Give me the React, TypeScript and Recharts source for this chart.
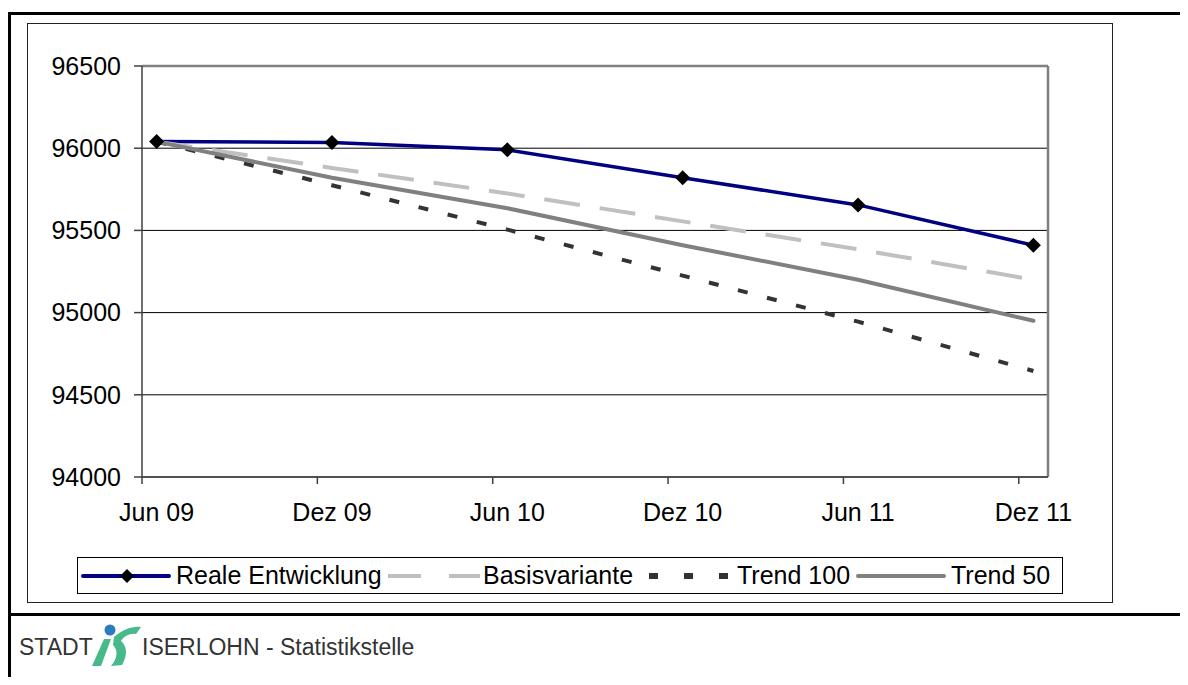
import React from 'react';
import {
  LineChart,
  Line,
  XAxis,
  YAxis,
  CartesianGrid,
  ReferenceLine,
} from 'recharts';

// Half-year reporting dates
const CATEGORIES = ['Jun 09', 'Dez 09', 'Jun 10', 'Dez 10', 'Jun 11', 'Dez 11'];

// Population values
const REALE = [96040, 96035, 95990, 95820, 95655, 95410];
const BASIS = [96040, 95880, 95725, 95555, 95385, 95200];
const TREND_100 = [96040, 95775, 95505, 95225, 94945, 94645];
const TREND_50 = [96040, 95820, 95635, 95410, 95200, 94950];

const Y_TICKS = [94000, 94500, 95000, 95500, 96000, 96500];

const FONT = '"Liberation Sans", Arial, sans-serif';

const COLORS = {
  reale: '#000080',
  basis: '#c0c0c0',
  trend100: '#333333',
  trend50: '#808080',
};

// month offsets from Jun 09; each value sits mid-month
const MONTHS_PER_STEP = 6;
const X_TICKS = CATEGORIES.map((_, i) => i * MONTHS_PER_STEP);

const data = CATEGORIES.map((name, i) => ({
  name,
  x: i * MONTHS_PER_STEP + 0.5,
  reale: REALE[i],
  basis: BASIS[i],
  trend100: TREND_100[i],
  trend50: TREND_50[i],
}));

const CHART_W = 1084;
const CHART_H = 578;
const MARGIN = { top: 42, right: 64, bottom: 85, left: 0 };
const Y_AXIS_W = 114;
const PLOT_W = CHART_W - MARGIN.left - MARGIN.right - Y_AXIS_W;
const HALF_MONTH_PX = PLOT_W / 31 / 2;

const Diamond = (props: any) => {
  const { cx, cy } = props;
  if (cx == null || cy == null) return null;
  const r = 7.5;
  return (
    <polygon
      points={`${cx},${cy - r} ${cx + r},${cy} ${cx},${cy + r} ${cx - r},${cy}`}
      fill="#000"
    />
  );
};

const MonthTick = (props: any) => {
  const { x, y, payload } = props;
  const idx = X_TICKS.indexOf(payload.value);
  return (
    <text
      x={x + HALF_MONTH_PX}
      y={y}
      dy="0.71em"
      textAnchor="middle"
      fill="#000"
      fontSize={25}
      fontFamily={FONT}
    >
      {CATEGORIES[idx]}
    </text>
  );
};

const LEGEND = [
  { key: 'reale', label: 'Reale Entwicklung', width: 307, gap: 3 },
  { key: 'basis', label: 'Basisvariante', width: 249, gap: 3 },
  { key: 'trend100', label: 'Trend 100', width: 219, gap: 8 },
  { key: 'trend50', label: 'Trend 50', width: 200, gap: 3 },
];

const LegendSample = ({ k }: { k: string }) => {
  const w = 92;
  return (
    <svg width={w} height={20} style={{ display: 'block', flex: 'none' }}>
      {k === 'reale' && (
        <>
          <line x1={2} y1={10} x2={w - 4} y2={10} stroke={COLORS.reale} strokeWidth={4} strokeLinecap="round" />
          <polygon points={`${w / 2},3 ${w / 2 + 7},10 ${w / 2},17 ${w / 2 - 7},10`} fill="#000" />
        </>
      )}
      {k === 'basis' && (
        <line x1={0} y1={10} x2={w} y2={10} stroke={COLORS.basis} strokeWidth={4} strokeDasharray="33 28" />
      )}
      {k === 'trend100' && (
        <line x1={12} y1={10} x2={w} y2={10} stroke={COLORS.trend100} strokeWidth={6} strokeDasharray="9 26" />
      )}
      {k === 'trend50' && (
        <line x1={2} y1={10} x2={w - 4} y2={10} stroke={COLORS.trend50} strokeWidth={4} strokeLinecap="round" />
      )}
    </svg>
  );
};

const IserlohnLogo = () => (
  <svg width={52} height={48} style={{ position: 'absolute', left: 90, top: 620 }}>
    <circle cx={20} cy={10} r={5.5} fill="#2b7bbf" />
    <path d="M14,19 L21,19 L11,46 L2,46 Z" fill="#47b98b" />
    <path
      d="M24,17 C32,10 42,6 51,7 L46,14 C40,13 34,16 31,21 C37,26 38,35 32,45 L21,46 C28,38 28,30 23,25 Z"
      fill="#47b98b"
    />
  </svg>
);

const App: React.FC = () => {
  return (
    <div
      style={{
        position: 'relative',
        margin: -8,
        width: 1188,
        height: 685,
        background: '#fff',
        fontFamily: FONT,
        overflow: 'hidden',
      }}
    >
      {/* outer frame */}
      <div style={{ position: 'absolute', left: 8, top: 12, width: 1180, height: 2.5, background: '#000' }} />
      <div style={{ position: 'absolute', left: 8, top: 12, width: 2.5, height: 673, background: '#000' }} />
      <div style={{ position: 'absolute', left: 8, top: 613, width: 1180, height: 2.5, background: '#000' }} />

      {/* chart area */}
      <div
        style={{
          position: 'absolute',
          left: 27,
          top: 23,
          width: CHART_W,
          height: CHART_H,
          border: '1.5px solid #222',
        }}
      >
        <LineChart width={CHART_W} height={CHART_H} data={data} margin={MARGIN}>
          <CartesianGrid vertical={false} stroke="#000" strokeWidth={1} />
          <XAxis
            dataKey="x"
            type="number"
            domain={[0, 31]}
            ticks={X_TICKS}
            interval={0}
            height={40}
            tickSize={7}
            tickMargin={19}
            stroke="#404040"
            strokeWidth={1.5}
            tick={<MonthTick />}
          />
          <YAxis
            type="number"
            domain={[94000, 96500]}
            ticks={Y_TICKS}
            interval={0}
            width={Y_AXIS_W}
            tickSize={8}
            tickMargin={13}
            stroke="#404040"
            strokeWidth={1.5}
            tick={{ fill: '#000', fontSize: 25, fontFamily: FONT }}
          />
          <ReferenceLine y={96500} stroke="#808080" strokeWidth={2.5} />
          <ReferenceLine x={31} stroke="#808080" strokeWidth={2.5} />
          <Line
            dataKey="reale"
            stroke={COLORS.reale}
            strokeWidth={3.5}
            dot={false}
            isAnimationActive={false}
          />
          <Line
            dataKey="basis"
            stroke={COLORS.basis}
            strokeWidth={4}
            strokeDasharray="36 20"
            dot={false}
            isAnimationActive={false}
          />
          <Line
            dataKey="trend100"
            stroke={COLORS.trend100}
            strokeWidth={4}
            strokeDasharray="10 20"
            dot={false}
            isAnimationActive={false}
          />
          <Line
            dataKey="trend50"
            stroke={COLORS.trend50}
            strokeWidth={4}
            strokeLinecap="round"
            dot={false}
            isAnimationActive={false}
          />
          {/* markers drawn last so they sit on top */}
          <Line
            dataKey="reale"
            stroke="none"
            dot={<Diamond />}
            activeDot={false}
            isAnimationActive={false}
          />
        </LineChart>

        {/* legend */}
        <div
          style={{
            position: 'absolute',
            left: 49,
            top: 533,
            width: 986,
            height: 37,
            border: '1px solid #000',
            boxSizing: 'border-box',
            display: 'flex',
            alignItems: 'center',
            paddingLeft: 3,
            fontSize: 25,
            color: '#000',
            whiteSpace: 'nowrap',
          }}
        >
          {LEGEND.map((item) => (
            <div key={item.key} style={{ display: 'flex', alignItems: 'center', width: item.width, flex: 'none' }}>
              <LegendSample k={item.key} />
              <span style={{ marginLeft: item.gap }}>{item.label}</span>
            </div>
          ))}
        </div>
      </div>

      {/* footer */}
      <div
        style={{
          position: 'absolute',
          left: 19,
          top: 634,
          fontSize: 23,
          color: '#333',
          whiteSpace: 'nowrap',
        }}
      >
        STADT
      </div>
      <IserlohnLogo />
      <div
        style={{
          position: 'absolute',
          left: 142,
          top: 634,
          fontSize: 23,
          color: '#333',
          whiteSpace: 'nowrap',
        }}
      >
        ISERLOHN - Statistikstelle
      </div>
    </div>
  );
};

export default App;
